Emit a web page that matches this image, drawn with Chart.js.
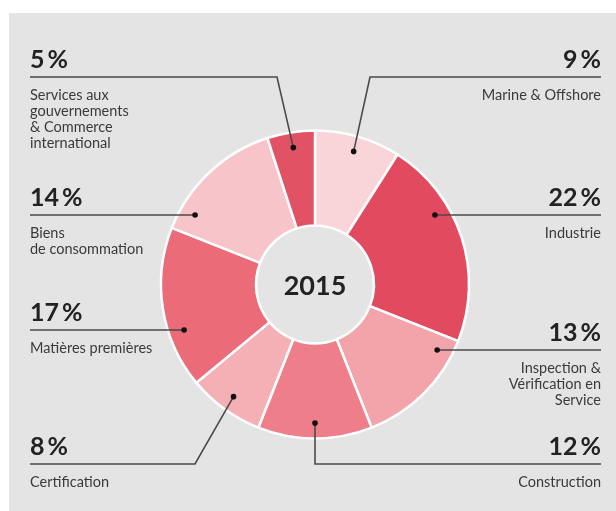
<!DOCTYPE html>
<html>
<head>
<meta charset="utf-8">
<script src="https://cdn.jsdelivr.net/npm/chart.js@4/dist/chart.umd.min.js"></script>
<style>
  body { margin: 0; background: #fff; }
  #bg { position: absolute; left: 9px; top: 13px; width: 607px; height: 498px; background: #e4e4e4; }
  #wrap { position: absolute; left: 0; top: 0; width: 616px; height: 511px; }
</style>
</head>
<body>
<div id="bg"></div>
<div id="wrap"><canvas id="myChart" width="616" height="511"></canvas></div>
<script>
// donut data, clockwise from 12 o'clock
const categories = [
  "Marine & Offshore",
  "Industrie",
  "Inspection & Vérification en Service",
  "Construction",
  "Certification",
  "Matières premières",
  "Biens de consommation",
  "Services aux gouvernements & Commerce international"
];
const shares = [9, 22, 13, 12, 8, 17, 14, 5];
const labelLines = [
  ["Marine & Offshore"],
  ["Industrie"],
  ["Inspection &", "Vérification en", "Service"],
  ["Construction"],
  ["Certification"],
  ["Matières premières"],
  ["Biens", "de consommation"],
  ["Services aux", "gouvernements", "& Commerce", "international"]
];
const centerLabel = "2015";

const sliceColors = ["#f9d5d9", "#e14a5f", "#f3a3aa", "#ee7e89", "#f5b0b6", "#eb6b78", "#f7c4c9", "#e05264"];

// where each callout sits: side, y of its rule, elbow x (null = straight rule)
const callouts = [
  { side: "right", y: 77, elbow: 370 },
  { side: "right", y: 215, elbow: null },
  { side: "right", y: 350, elbow: null },
  { side: "right", y: 464, elbow: "dot" },
  { side: "left", y: 464, elbow: 195 },
  { side: "left", y: 330, elbow: null },
  { side: "left", y: 215, elbow: null },
  { side: "left", y: 77, elbow: 277 }
];

const calloutPlugin = {
  id: "callouts",
  afterDraw(chart) {
    const ctx = chart.ctx;
    const arcs = chart.getDatasetMeta(0).data;
    const leftX = 30, rightX = 601;

    arcs.forEach((arc, i) => {
      const c = callouts[i];
      const cx = arc.x, cy = arc.y;
      const r = arc.outerRadius * 0.9;
      let dx, dy;
      if (c.elbow === null) {
        dy = c.y;
        const h = Math.sqrt(r * r - (c.y - cy) * (c.y - cy));
        dx = c.side === "right" ? cx + h : cx - h;
      } else {
        const mid = (arc.startAngle + arc.endAngle) / 2;
        dx = cx + r * Math.cos(mid);
        dy = cy + r * Math.sin(mid);
      }

      ctx.save();
      ctx.strokeStyle = "#4a4a4a";
      ctx.lineWidth = 1.6;
      ctx.beginPath();
      ctx.moveTo(dx, dy);
      if (c.elbow !== null) {
        const ex = c.elbow === "dot" ? dx : c.elbow;
        ctx.lineTo(ex, c.y);
      }
      ctx.lineTo(c.side === "right" ? rightX : leftX, c.y);
      ctx.stroke();

      ctx.fillStyle = "#111";
      ctx.beginPath();
      ctx.arc(dx, dy, 2.8, 0, Math.PI * 2);
      ctx.fill();

      // percentage
      ctx.font = "bold 25px Lato";
      ctx.fillStyle = "#222";
      ctx.textBaseline = "alphabetic";
      const num = String(shares[i]);
      const gap = 3;
      const numW = ctx.measureText(num).width;
      const pctW = ctx.measureText("%").width;
      const startX = c.side === "right" ? rightX - (numW + gap + pctW) : leftX;
      ctx.textAlign = "left";
      ctx.fillText(num, startX, c.y - 9);
      ctx.fillText("%", startX + numW + gap, c.y - 9);

      // description
      ctx.font = "14.5px Lato";
      ctx.fillStyle = "#3a3a3a";
      ctx.textAlign = c.side === "right" ? "right" : "left";
      labelLines[i].forEach((line, k) => {
        ctx.fillText(line, c.side === "right" ? rightX : leftX, c.y + 23 + k * 16);
      });
      ctx.restore();
    });

    const a0 = arcs[0];
    ctx.save();
    ctx.font = "bold 27px Lato";
    ctx.fillStyle = "#222";
    ctx.textAlign = "center";
    ctx.textBaseline = "middle";
    ctx.fillText(centerLabel, a0.x, a0.y + 2);
    ctx.restore();
  }
};

new Chart(document.getElementById("myChart").getContext("2d"), {
  type: "doughnut",
  data: {
    labels: categories,
    datasets: [{
      data: shares,
      backgroundColor: sliceColors,
      borderColor: "#ffffff",
      borderWidth: 2.5
    }]
  },
  options: {
    responsive: false,
    animation: false,
    radius: 154,
    cutout: 74,
    layout: { padding: { left: 100, right: 86, top: 90, bottom: 32 } },
    plugins: {
      legend: { display: false },
      tooltip: { enabled: false }
    }
  },
  plugins: [calloutPlugin]
});
</script>
</body>
</html>
